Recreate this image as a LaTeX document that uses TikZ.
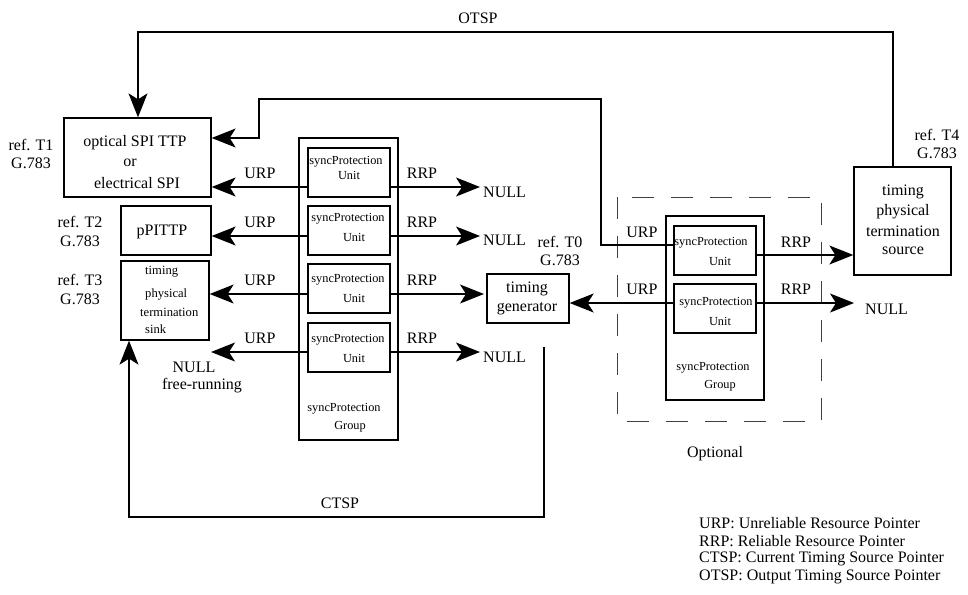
\documentclass[tikz,border=0pt]{standalone}
\usepackage{fontspec}
\setmainfont{Liberation Serif}
\usetikzlibrary{arrows.meta}
\begin{document}
\begin{tikzpicture}[x=1pt,y=-1pt,
  every node/.style={inner sep=0pt, font=\fontsize{16}{18}\selectfont},
  lbl/.style={anchor=center},
  small/.style={font=\fontsize{12.3}{14}\selectfont},
  mid/.style={font=\fontsize{12.6}{14}\selectfont},
  boxed/.style={draw, line width=1.3pt, rectangle},
  line/.style={line width=1.3pt},
  arr/.style={line width=1.3pt, -{Stealth[length=24pt, width=19pt, inset=6pt]}}
]
\useasboundingbox (0,0) rectangle (968,594);

% termination points on the left
\node[boxed, minimum width=147pt, minimum height=79pt] (t1) at (137.5,157.5) {};
\node[boxed, minimum width=90pt, minimum height=49pt] (t2) at (166,230.5) {};
\node[boxed, minimum width=88pt, minimum height=79pt] (t3) at (165,300.5) {};
\node[lbl] (t1a) at (135,143) {optical SPI TTP};
\node[lbl] (t1b) at (130,163) {or};
\node[lbl] (t1c) at (137,183) {electrical SPI};
\node[lbl] (t2a) at (162,232) {pPITTP};
\node[mid, anchor=west] (t3a) at (145,272) {timing};
\node[mid, anchor=west] (t3b) at (145,294) {physical};
\node[mid, anchor=west] (t3c) at (140,312) {termination};
\node[mid, anchor=west] (t3d) at (145,329) {sink};

\node[lbl] (r1a) at (31,145) {ref. T1};
\node[lbl] (r1b) at (31,163) {G.783};
\node[lbl] (r2a) at (80,222) {ref. T2};
\node[lbl] (r2b) at (80,241) {G.783};
\node[lbl] (r3a) at (80,280) {ref. T3};
\node[lbl] (r3b) at (80,299) {G.783};

% first syncProtection group
\node[boxed, minimum width=99pt, minimum height=302pt] (g1) at (348.5,289) {};
\node[boxed, minimum width=82pt, minimum height=49pt] (u1) at (349,172.5) {};
\node[boxed, minimum width=82pt, minimum height=49pt] (u2) at (349,230.5) {};
\node[boxed, minimum width=82pt, minimum height=49pt] (u3) at (349,288.5) {};
\node[boxed, minimum width=82pt, minimum height=49pt] (u4) at (349,347.5) {};
\node[small] (u1a) at (346,162) {syncProtection};
\node[small] (u1b) at (349,175) {Unit};
\node[small] (u2a) at (348,219) {syncProtection};
\node[small] (u2b) at (354,237) {Unit};
\node[small] (u3a) at (348,280) {syncProtection};
\node[small] (u3b) at (354,298) {Unit};
\node[small] (u4a) at (348,340) {syncProtection};
\node[small] (u4b) at (354,358) {Unit};
\node[small] (g1a) at (344,409) {syncProtection};
\node[small] (g1b) at (350,427) {Group};

% row ends on the right of the first group
\coordinate (n1) at (480,187);
\coordinate (n2) at (480,236);
\coordinate (n3) at (484,294);
\coordinate (n4) at (480,352);
\coordinate (f4) at (211,352);

\draw[arr] (u1.west |- 0,187) -- (t1.east |- 0,187);
\draw[arr] (u2.west |- 0,236) -- (t2.east |- 0,236);
\draw[arr] (u3.west |- 0,294) -- (t3.east |- 0,294);
\draw[arr] (u4.west |- 0,352) -- (f4);
\draw[arr] (u1.east |- n1) -- (n1);
\draw[arr] (u2.east |- n2) -- (n2);
\draw[arr] (u3.east |- n3) -- (n3);
\draw[arr] (u4.east |- n4) -- (n4);

\node[lbl] (la1) at (260,173) {URP};
\node[lbl] (la2) at (260,222) {URP};
\node[lbl] (la3) at (260,280) {URP};
\node[lbl] (la4) at (260,338) {URP};
\node[lbl] (lb1) at (422,173) {RRP};
\node[lbl] (lb2) at (422,222) {RRP};
\node[lbl] (lb3) at (422,280) {RRP};
\node[lbl] (lb4) at (422,338) {RRP};
\node[anchor=west] (null1) at (483,192) {NULL};
\node[anchor=west] (null2) at (483,240) {NULL};
\node[anchor=west] (null4) at (483,357) {NULL};
\node[lbl] (fr1) at (194,367) {NULL};
\node[lbl] (fr2) at (202,386) {free-running};

% timing generator
\node[boxed, minimum width=82pt, minimum height=49pt] (tg) at (528,298.5) {};
\node[lbl] (tga) at (527,289) {timing};
\node[lbl] (tgb) at (527,309) {generator};
\node[lbl] (r0a) at (560,242) {ref. T0};
\node[lbl] (r0b) at (560,260) {G.783};

% optional second group
\draw[line width=1pt, black!75, dash pattern=on 22pt off 17pt] (617,197) rectangle (821,421);
\node[boxed, minimum width=98pt, minimum height=184pt] (g2) at (715,308) {};
\node[boxed, minimum width=82pt, minimum height=49pt] (v1) at (715,250.5) {};
\node[boxed, minimum width=82pt, minimum height=49pt] (v2) at (715,308.5) {};
\node[small] (v1a) at (711,243) {syncProtection};
\node[small] (v1b) at (720,261) {Unit};
\node[small] (v2a) at (716,303) {syncProtection};
\node[small] (v2b) at (720,321) {Unit};
\node[small] (g2a) at (713,368) {syncProtection};
\node[small] (g2b) at (720,386) {Group};
\node[lbl] (opt) at (715,454) {Optional};

\node[lbl] (lc1) at (642,232) {URP};
\node[lbl] (lc2) at (642,289) {URP};
\node[lbl] (ld1) at (796,242) {RRP};
\node[lbl] (ld2) at (796,289) {RRP};

% timing physical termination source
\node[boxed, minimum width=97pt, minimum height=108pt] (t4) at (902.5,221) {};
\node[lbl] (t4a) at (903,192) {timing};
\node[lbl] (t4b) at (903,212) {physical};
\node[lbl] (t4c) at (903,231) {termination};
\node[lbl] (t4d) at (903,251) {source};
\node[lbl] (r4a) at (937,135) {ref. T4};
\node[lbl] (r4b) at (937,153) {G.783};

\coordinate (n5) at (854,303);
\node[anchor=west] (null5) at (865,309) {NULL};

\draw[arr] (v1.east |- 0,255) -- (t4.west |- 0,255);
\draw[arr] (v2.east |- n5) -- (n5);
\draw[arr] (v2.west |- 0,303) -- (tg.east |- 0,303);

% pointer loops
\draw[arr] (v1.west |- 0,245) -- (601,245) -- (601,99) -- (259,99) -- (259,138) -- (t1.east |- 0,138);
\draw[arr] (t4.north -| 893,0) -- (893,32) -- (138,32) -- (t1.north -| 138,0);
\node[lbl] (otsp) at (478,18) {OTSP};
\coordinate (ctspstart) at (544,347);
\draw[arr] (ctspstart) -- (544,517) -- (129,517) -- (t3.south -| 129,0);
\node[lbl] (ctsp) at (340,503) {CTSP};

% legend
\node[anchor=west] (lg1) at (699,523) {URP: Unreliable Resource Pointer};
\node[anchor=west] (lg2) at (699,541) {RRP: Reliable Resource Pointer};
\node[anchor=west] (lg3) at (699,559) {CTSP: Current Timing Source Pointer};
\node[anchor=west] (lg4) at (699,577) {OTSP: Output Timing Source Pointer};
\end{tikzpicture}
\end{document}
